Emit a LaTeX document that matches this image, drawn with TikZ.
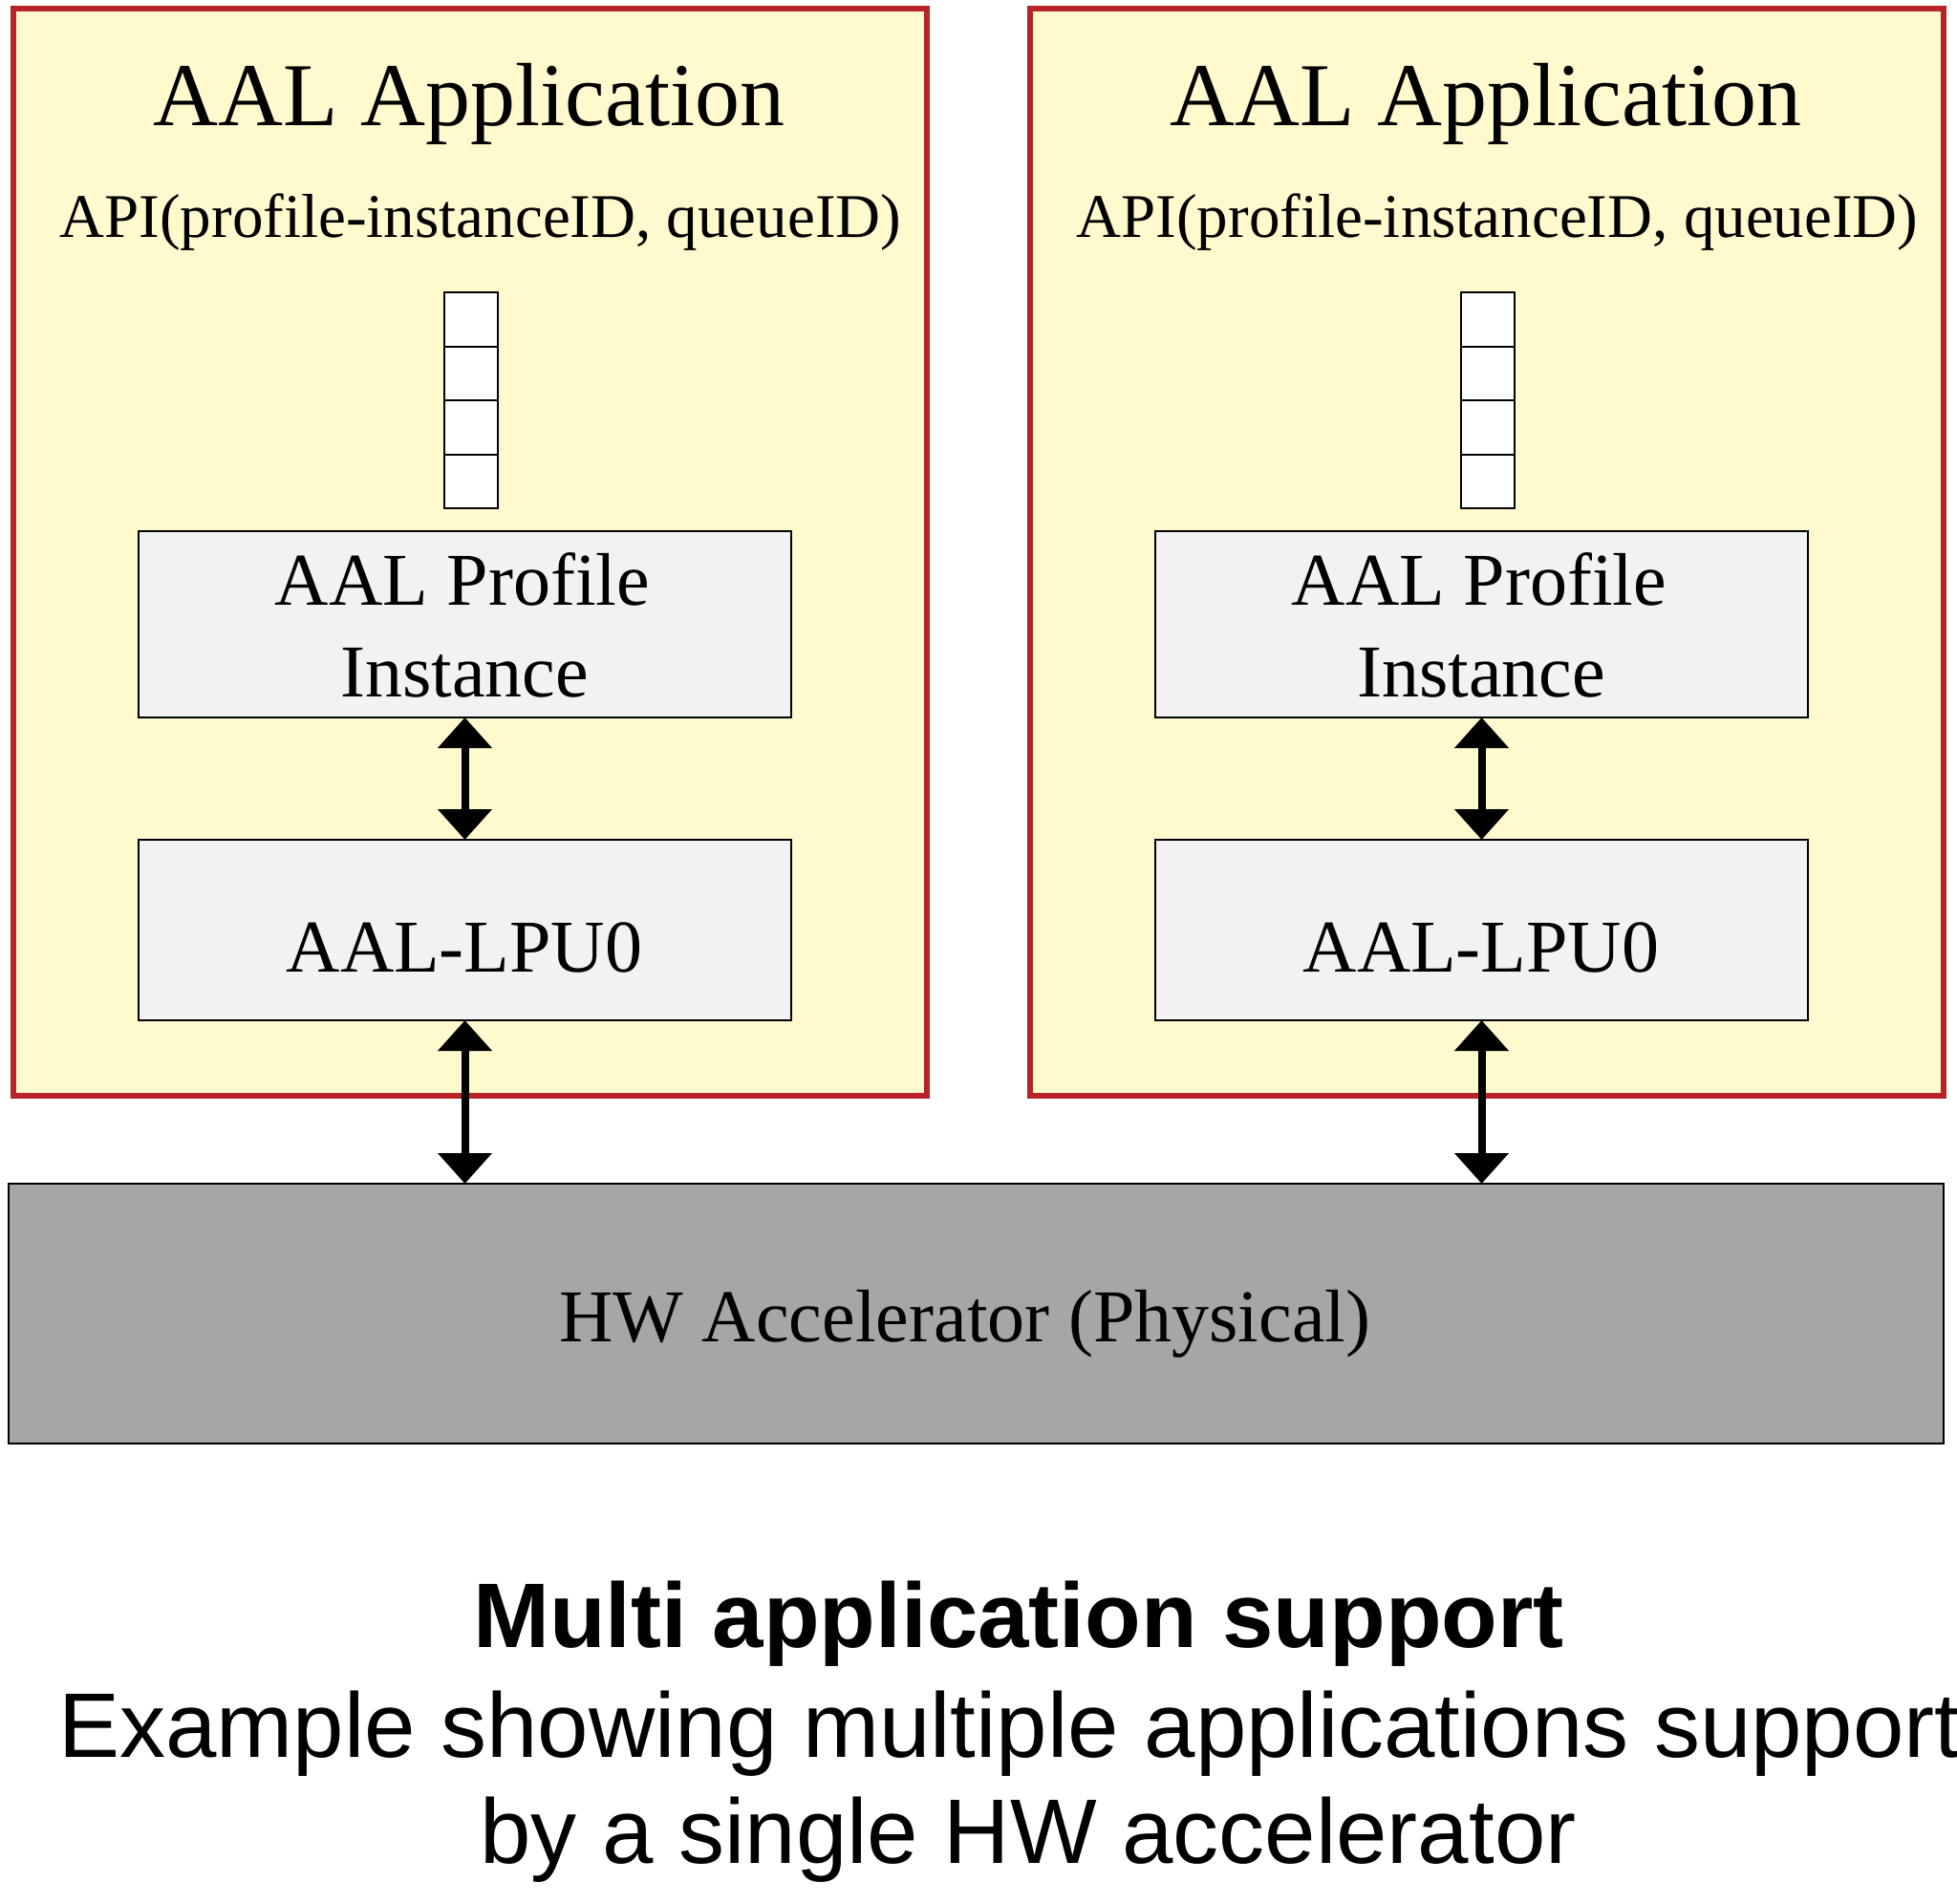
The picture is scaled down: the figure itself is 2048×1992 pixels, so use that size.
\documentclass[tikz,border=0pt]{standalone}
\usepackage{fontspec}
\setmainfont{Liberation Serif}
\setsansfont{Liberation Sans}
\usetikzlibrary{arrows.meta}
\definecolor{appfill}{HTML}{FFF9CE}
\definecolor{appred}{HTML}{B82328}
\definecolor{boxfill}{HTML}{F2F2F2}
\definecolor{hwfill}{HTML}{A6A6A6}
\begin{document}
\begin{tikzpicture}[x=0.5pt,y=-0.5pt,
  appbox/.style={draw=appred,line width=3pt,fill=appfill,inner sep=0pt,outer sep=0pt,minimum width=478pt,minimum height=569pt},
  cell/.style={draw=black,line width=1pt,fill=white,inner sep=0pt,outer sep=0pt,minimum width=28pt,minimum height=28.25pt},
  innerbox/.style={draw=black,line width=0.8pt,fill=boxfill,inner sep=0pt,outer sep=0pt,minimum width=341.5pt},
  hwbox/.style={draw=black,line width=0.8pt,fill=hwfill,inner sep=0pt,outer sep=0pt,minimum width=1012.5pt,minimum height=136pt},
  txt/.style={inner sep=0pt,anchor=base},
  biarrow/.style={line width=4pt,{Triangle[width=27.5pt,length=16pt]}-{Triangle[width=27.5pt,length=16pt]}},
]
\useasboundingbox (0,0) rectangle (2048,1992);
% HW accelerator
\node[hwbox] (hw) at (1021.5,1375) {};
\node[txt,font=\fontsize{39pt}{47pt}\selectfont] (hwtxt) at (1010,1404) {HW Accelerator (Physical)};
% Left application
\node[appbox] (appL) at (492,578) {};
\node[txt,font=\fontsize{47pt}{56pt}\selectfont] (titleL) at (491,131) {AAL Application};
\node[txt,font=\fontsize{32.5pt}{40pt}\selectfont] (apiL) at (503,248) {API(profile-instanceID, queueID)};
\node[cell] (qL1) at (493,334.25) {};
\node[cell] (qL2) at (493,390.75) {};
\node[cell] (qL3) at (493,447.25) {};
\node[cell] (qL4) at (493,503.75) {};
\node[innerbox,minimum height=97.5pt] (profL) at (486.5,653.5) {};
\node[txt,font=\fontsize{39pt}{47pt}\selectfont] (profLa) at (484,633) {AAL Profile};
\node[txt,font=\fontsize{39pt}{47pt}\selectfont] (profLb) at (486,729) {Instance};
\node[innerbox,minimum height=94.5pt] (lpuL) at (486.5,973.5) {};
\node[txt,font=\fontsize{39pt}{47pt}\selectfont] (lpuLt) at (486,1017) {AAL-LPU0};
% Right application
\node[appbox] (appR) at (1556,578) {};
\node[txt,font=\fontsize{47pt}{56pt}\selectfont] (titleR) at (1555,131) {AAL Application};
\node[txt,font=\fontsize{32.5pt}{40pt}\selectfont] (apiR) at (1567,248) {API(profile-instanceID, queueID)};
\node[cell] (qR1) at (1557,334.25) {};
\node[cell] (qR2) at (1557,390.75) {};
\node[cell] (qR3) at (1557,447.25) {};
\node[cell] (qR4) at (1557,503.75) {};
\node[innerbox,minimum height=97.5pt] (profR) at (1550.5,653.5) {};
\node[txt,font=\fontsize{39pt}{47pt}\selectfont] (profRa) at (1548,633) {AAL Profile};
\node[txt,font=\fontsize{39pt}{47pt}\selectfont] (profRb) at (1550,729) {Instance};
\node[innerbox,minimum height=94.5pt] (lpuR) at (1550.5,973.5) {};
\node[txt,font=\fontsize{39pt}{47pt}\selectfont] (lpuRt) at (1550,1017) {AAL-LPU0};
% arrows
\draw[biarrow] (profL.south) -- (lpuL.north);
\draw[biarrow] (lpuL.south) -- (lpuL.south |- hw.north);
\draw[biarrow] (profR.south) -- (lpuR.north);
\draw[biarrow] (lpuR.south) -- (lpuR.south |- hw.north);
% caption
\node[txt,font=\sffamily\bfseries\fontsize{48pt}{58pt}\selectfont] (cap1) at (1066,1724) {Multi application support};
\node[inner sep=0pt,anchor=base west,font=\sffamily\fontsize{48pt}{58pt}\selectfont] (cap2) at (61,1839) {Example showing multiple applications support};
\node[txt,font=\sffamily\fontsize{48pt}{58pt}\selectfont] (cap3) at (1076,1950) {by a single HW accelerator};
\end{tikzpicture}
\end{document}
